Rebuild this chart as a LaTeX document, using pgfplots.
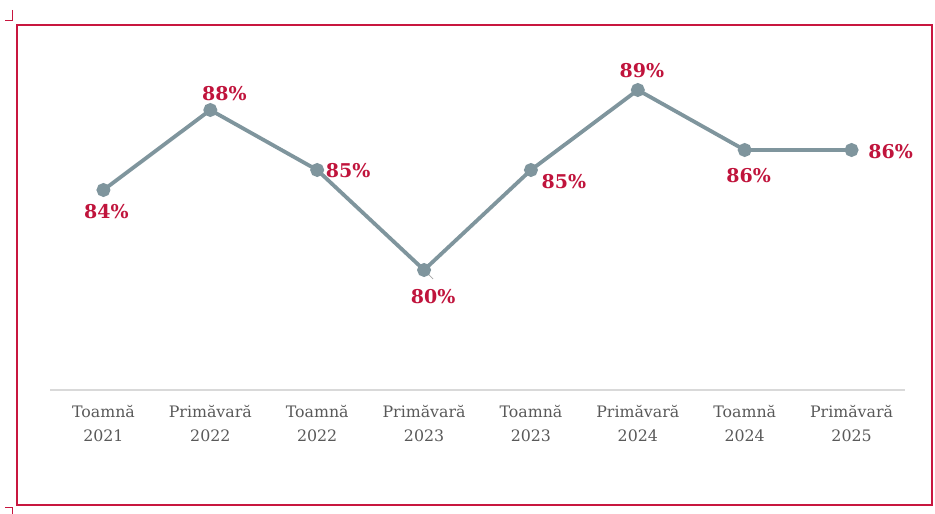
\documentclass[border=0pt]{standalone}
\usepackage{fontspec}
\setmainfont{DejaVu Serif}
\usepackage{pgfplots}
\pgfplotsset{compat=1.18}
\definecolor{lineblue}{HTML}{7F959D}
\definecolor{crim}{HTML}{C0143C}
\definecolor{framecol}{HTML}{C8163F}
\definecolor{ticktext}{HTML}{595959}
\definecolor{baseline}{HTML}{D9D9D9}
\begin{document}
\begin{tikzpicture}
\useasboundingbox (0,0) rectangle (935pt,514pt);
% frame and the small corner marks
\draw[framecol, line width=1.1pt] (17pt,9pt) rectangle (932pt,489pt);
\draw[framecol, line width=1pt] (12pt,504pt) -- (12pt,493pt) -- (5pt,493pt);
\draw[framecol, line width=1pt] (5pt,6pt) -- (12pt,6pt) -- (12pt,0pt);
\begin{axis}[
  at={(50pt,124pt)}, anchor=south west,
  scale only axis, width=855pt, height=340pt,
  xmin=-0.5, xmax=7.5, ymin=74, ymax=91,
  axis x line*=bottom, axis y line=none,
  axis line style={draw=baseline, line width=1.2pt},
  every outer x axis line/.append style={draw=baseline, line width=1.2pt, -},
  xtick={0,...,7}, major tick length=0pt,
  xticklabels={{Toamnă\\2021},{Primăvară\\2022},{Toamnă\\2022},{Primăvară\\2023},
               {Toamnă\\2023},{Primăvară\\2024},{Toamnă\\2024},{Primăvară\\2025}},
  xticklabel style={align=center, font=\fontsize{15.8}{24}\selectfont, text=ticktext, yshift=-12pt},
  clip=false,
]
\addplot[lineblue, line width=3.8pt, mark=*, mark size=5pt, mark options={fill=lineblue, draw=none}]
  coordinates {(0,84)(1,88)(2,85)(3,80)(4,85)(5,89)(6,86)(7,86)};
\draw[gray!70, line width=0.8pt] (axis cs:3,80) ++(2pt,-2pt) -- ++(7pt,-7pt);
\tikzset{lab/.style={text=crim, font=\fontsize{19}{22}\selectfont\bfseries}}
\node[lab] at (axis cs:0,84) [xshift=3pt, yshift=-22pt] {84\%};
\node[lab] at (axis cs:1,88) [xshift=14pt, yshift=16pt] {88\%};
\node[lab] at (axis cs:2,85) [xshift=31pt, yshift=-1pt] {85\%};
\node[lab] at (axis cs:3,80) [xshift=9pt, yshift=-27pt] {80\%};
\node[lab] at (axis cs:4,85) [xshift=33pt, yshift=-12pt] {85\%};
\node[lab] at (axis cs:5,89) [xshift=4pt, yshift=19pt] {89\%};
\node[lab] at (axis cs:6,86) [xshift=4pt, yshift=-26pt] {86\%};
\node[lab] at (axis cs:7,86) [xshift=39pt, yshift=-2pt] {86\%};
\end{axis}
\end{tikzpicture}
\end{document}
